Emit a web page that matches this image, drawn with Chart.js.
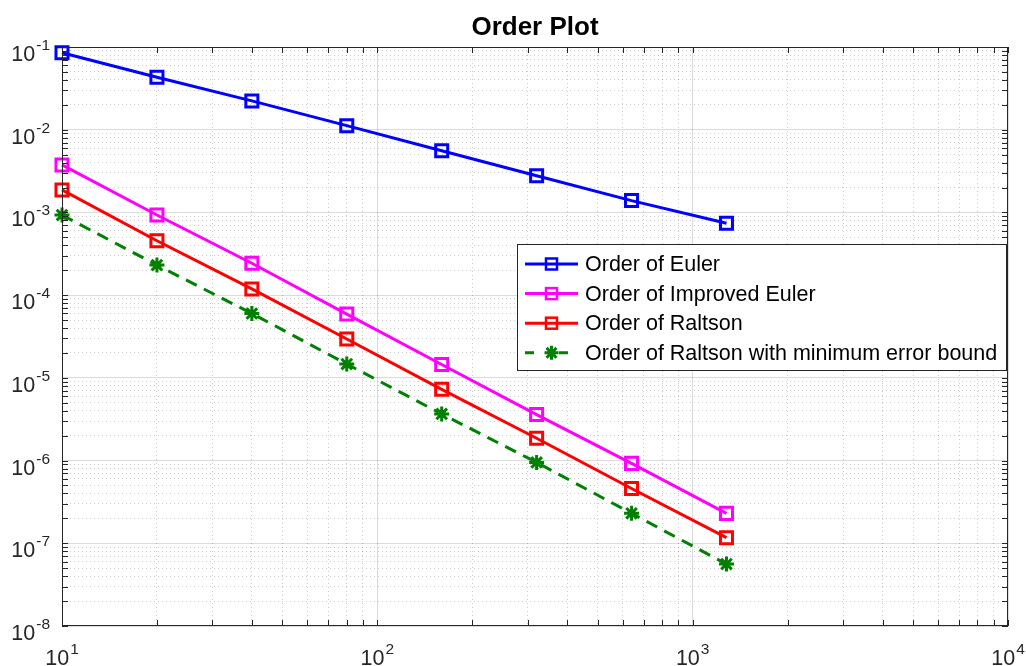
<!DOCTYPE html>
<html>
<head>
<meta charset="utf-8">
<title>Order Plot</title>
<script src="https://cdn.jsdelivr.net/npm/chart.js@4.4.1/dist/chart.umd.min.js"></script>
<style>
  html, body { margin: 0; padding: 0; background: #fff; }
  #wrap { width: 1026px; height: 666px; position: relative; }
</style>
</head>
<body>
<div id="wrap"><canvas id="orderChart"></canvas></div>
<script>
// Values (error vs number of steps)
const stepCounts = [10, 20, 40, 80, 160, 320, 640, 1280];
const eulerErr = [0.0853, 0.0430, 0.0223, 0.0112, 0.00557, 0.00278, 0.00139, 0.00074];
const improvedEulerErr = [3.75e-3, 9.3e-4, 2.43e-4, 5.9e-5, 1.45e-5, 3.6e-6, 9.25e-7, 2.3e-7];
const raltsonErr = [1.87e-3, 4.55e-4, 1.19e-4, 2.95e-5, 7.26e-6, 1.86e-6, 4.6e-7, 1.17e-7];
const raltsonBoundErr = [9.3e-4, 2.31e-4, 6.0e-5, 1.47e-5, 3.66e-6, 9.5e-7, 2.3e-7, 5.6e-8];
const seriesNames = ['Order of Euler', 'Order of Improved Euler', 'Order of Raltson', 'Order of Raltson with minimum error bound'];
const seriesColors = ['#0000ff', '#ff00ff', '#ff0000', '#008000'];

// decade labels (exponents of 10)
const xDecades = [1, 2, 3, 4];
const yDecades = [-8, -7, -6, -5, -4, -3, -2, -1];

const FONT = '"Liberation Sans", Arial, Helvetica, sans-serif';

function toPoints(ys) {
  return stepCounts.map((n, i) => ({ x: n, y: ys[i] }));
}

function isDecade(v) {
  const l = Math.log10(v);
  return Math.abs(l - Math.round(l)) < 1e-9;
}

// 1..9 x 10^e ticks between the first and last decade
function logTicks(decades) {
  const out = [];
  for (let e = decades[0]; e < decades[decades.length - 1]; e++) {
    for (let m = 1; m < 10; m++) out.push({ value: m * Math.pow(10, e) });
  }
  out.push({ value: Math.pow(10, decades[decades.length - 1]) });
  return out;
}

function drawMarker(ctx, style, cx, cy, color) {
  ctx.strokeStyle = color;
  ctx.setLineDash([]);
  if (style === 'rect') {
    ctx.lineWidth = 2.5;
    ctx.strokeRect(cx - 5.5, cy - 5.5, 11, 11);
  } else {
    ctx.lineWidth = 3;
    const r = 7;
    ctx.beginPath();
    for (let k = 0; k < 4; k++) {
      const a = k * Math.PI / 4;
      ctx.moveTo(cx - r * Math.cos(a), cy - r * Math.sin(a));
      ctx.lineTo(cx + r * Math.cos(a), cy + r * Math.sin(a));
    }
    ctx.stroke();
  }
}

// "10" with a superscript exponent; align = 'right' or 'center'
function drawPower(ctx, exp, x, y, align) {
  const sup = String(exp);
  ctx.font = '21.5px ' + FONT;
  const wBase = ctx.measureText('10').width;
  ctx.font = '15.5px ' + FONT;
  const wSup = ctx.measureText(sup).width;
  const total = wBase + 1 + wSup;
  const left = align === 'right' ? x - total : x - total / 2;
  ctx.fillStyle = '#262626';
  ctx.textAlign = 'left';
  ctx.textBaseline = 'alphabetic';
  ctx.font = '21.5px ' + FONT;
  ctx.fillText('10', left, y);
  ctx.font = '15.5px ' + FONT;
  ctx.fillText(sup, left + wBase + 1, y - 11);
}

const matlabFrame = {
  id: 'matlabFrame',
  afterDraw(chart) {
    const { ctx, chartArea: a, scales } = chart;
    const xs = scales.x, ys = scales.y;
    ctx.save();

    // axes box and inward ticks
    ctx.strokeStyle = '#262626';
    ctx.lineWidth = 1;
    ctx.setLineDash([]);
    ctx.strokeRect(a.left + 0.5, a.top + 0.5, a.right - a.left - 1, a.bottom - a.top - 1);
    ctx.beginPath();
    xs.ticks.forEach(t => {
      const px = Math.round(xs.getPixelForValue(t.value)) + 0.5;
      ctx.moveTo(px, a.bottom); ctx.lineTo(px, a.bottom - 6);
      ctx.moveTo(px, a.top); ctx.lineTo(px, a.top + 6);
    });
    ys.ticks.forEach(t => {
      const py = Math.round(ys.getPixelForValue(t.value)) + 0.5;
      ctx.moveTo(a.left, py); ctx.lineTo(a.left + 6, py);
      ctx.moveTo(a.right, py); ctx.lineTo(a.right - 6, py);
    });
    ctx.stroke();

    // tick labels
    xDecades.forEach(e => {
      drawPower(ctx, e, xs.getPixelForValue(Math.pow(10, e)), a.bottom + 39, 'center');
    });
    yDecades.forEach(e => {
      drawPower(ctx, e, a.left - 12, ys.getPixelForValue(Math.pow(10, e)) + 14, 'right');
    });

    // title
    ctx.fillStyle = '#000';
    ctx.font = 'bold 26px ' + FONT;
    ctx.textAlign = 'center';
    ctx.textBaseline = 'alphabetic';
    ctx.fillText('Order Plot', (a.left + a.right) / 2, 35);

    // legend
    const lx = 517, ly = 244, lw = 489, lh = 126;
    ctx.fillStyle = '#fff';
    ctx.fillRect(lx, ly, lw, lh);
    ctx.strokeStyle = '#262626';
    ctx.lineWidth = 1;
    ctx.strokeRect(lx + 0.5, ly + 0.5, lw, lh);
    ctx.font = '21.5px ' + FONT;
    ctx.textAlign = 'left';
    ctx.textBaseline = 'middle';
    chart.data.datasets.forEach((ds, i) => {
      const cy = 264 + i * 29.6;
      ctx.strokeStyle = ds.borderColor;
      ctx.lineWidth = 3;
      ctx.beginPath();
      if (ds.borderDash) {
        ctx.moveTo(525, cy); ctx.lineTo(534, cy);
        ctx.moveTo(559, cy); ctx.lineTo(568, cy);
      } else {
        ctx.moveTo(525, cy); ctx.lineTo(578, cy);
      }
      ctx.stroke();
      drawMarker(ctx, ds.pointStyle, 551.5, cy, ds.borderColor);
      ctx.fillStyle = '#000';
      ctx.fillText(ds.label, 585, cy + 1);
    });

    ctx.restore();
  }
};

function lineSet(i, ys, extra) {
  return Object.assign({
    label: seriesNames[i],
    data: toPoints(ys),
    borderColor: seriesColors[i],
    backgroundColor: 'rgba(0,0,0,0)',
    borderWidth: 3,
    pointStyle: 'rect',
    pointRadius: 8.5,
    pointBorderWidth: 3,
    pointBorderColor: seriesColors[i],
    pointBackgroundColor: 'rgba(0,0,0,0)',
    tension: 0,
    clip: false
  }, extra || {});
}

const gridColor = c => (c.tick && isDecade(c.tick.value)) ? 'rgba(0,0,0,0.14)' : 'rgba(0,0,0,0.2)';
const gridDash = c => (c.tick && isDecade(c.tick.value)) ? [] : [1, 3];

const ctx = document.getElementById('orderChart').getContext('2d');
new Chart(ctx, {
  type: 'line',
  data: {
    datasets: [
      lineSet(0, eulerErr),
      lineSet(1, improvedEulerErr),
      lineSet(2, raltsonErr),
      lineSet(3, raltsonBoundErr, { borderDash: [12, 8], pointStyle: 'star', pointRadius: 7.5, pointBorderWidth: 3 })
    ]
  },
  options: {
    responsive: true,
    maintainAspectRatio: false,
    animation: false,
    layout: { autoPadding: false, padding: { left: 62, top: 47, right: 18, bottom: 40 } },
    plugins: {
      legend: { display: false },
      title: { display: false },
      tooltip: { enabled: false }
    },
    scales: {
      x: {
        type: 'logarithmic',
        min: Math.pow(10, xDecades[0]),
        max: Math.pow(10, xDecades[xDecades.length - 1]),
        afterBuildTicks: s => { s.ticks = logTicks(xDecades); },
        afterFit: s => { s.height = 0; },
        ticks: { display: false, autoSkip: false },
        grid: { color: gridColor, lineWidth: 1, drawTicks: false },
        border: { display: false, dash: gridDash }
      },
      y: {
        type: 'logarithmic',
        min: Math.pow(10, yDecades[0]),
        max: Math.pow(10, yDecades[yDecades.length - 1]),
        afterBuildTicks: s => { s.ticks = logTicks(yDecades); },
        afterFit: s => { s.width = 0; },
        ticks: { display: false, autoSkip: false },
        grid: { color: gridColor, lineWidth: 1, drawTicks: false },
        border: { display: false, dash: gridDash }
      }
    }
  },
  plugins: [matlabFrame]
});
</script>
</body>
</html>
